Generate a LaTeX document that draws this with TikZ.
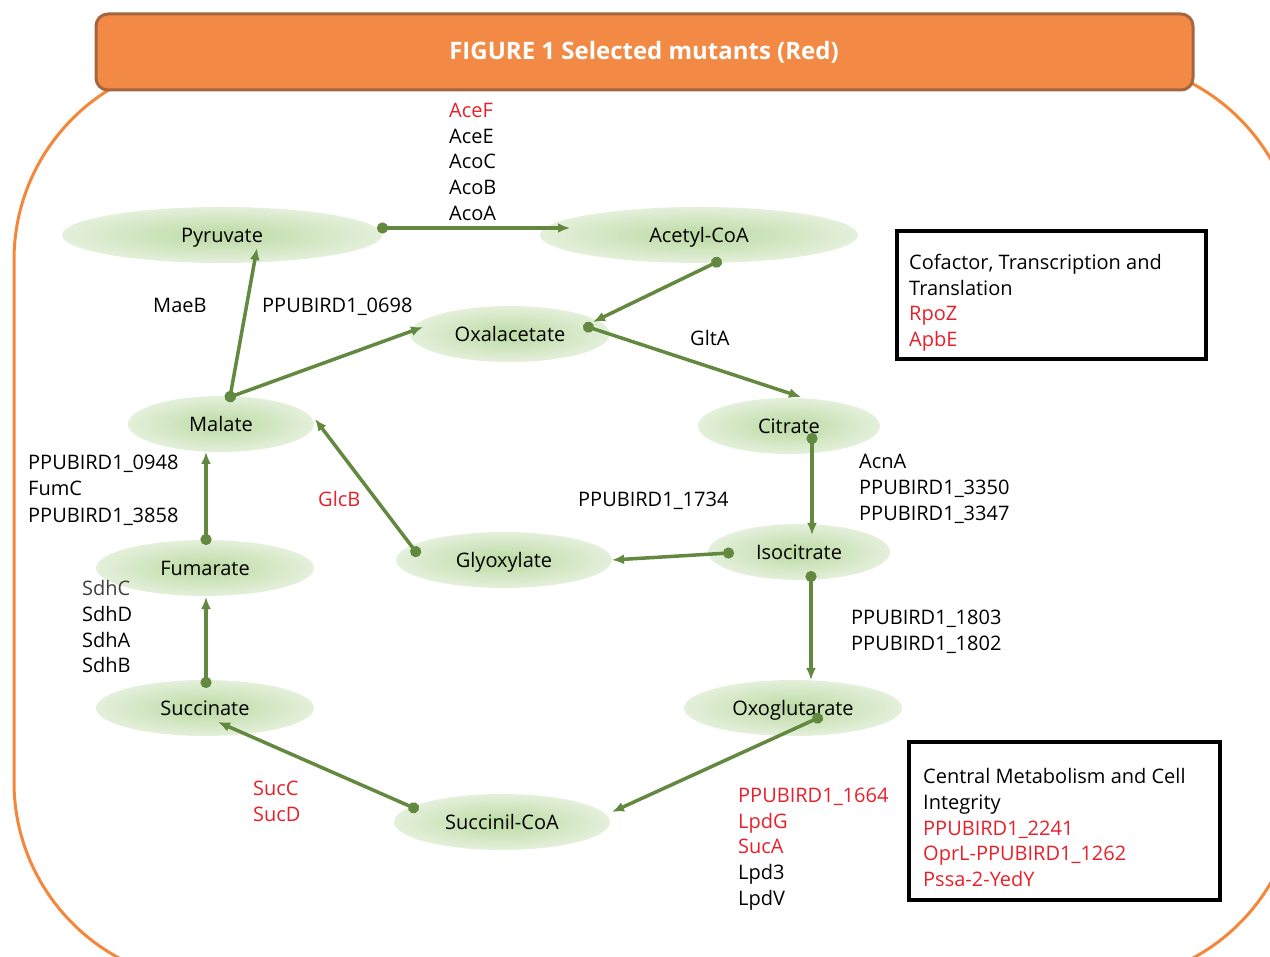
\documentclass[tikz,border=0pt]{standalone}
\usepackage{fontspec}
\setmainfont{Open Sans}
\usetikzlibrary{arrows.meta,shapes.geometric,calc}
\definecolor{hdrfill}{HTML}{F28A45}
\definecolor{hdrline}{HTML}{A4663D}
\definecolor{frameor}{HTML}{F4873A}
\definecolor{arrgreen}{HTML}{62893F}
\definecolor{metin}{HTML}{BBDAA2}
\definecolor{metout}{HTML}{E4F0DB}
\definecolor{mutred}{HTML}{E8202A}
\definecolor{dgrey}{HTML}{404040}
\begin{document}
\begin{tikzpicture}[x=1pt,y=-1pt,
  met/.style={ellipse, inner sep=0pt, minimum height=56pt, shading=radial,
    inner color=metin, outer color=metout, font=\fontsize{20}{25}\selectfont,
    text height=15pt, text depth=0pt},
  lbl/.style={anchor=base west, inner sep=0pt, font=\fontsize{20}{25}\selectfont},
  redlbl/.style={lbl, text=mutred},
  flow/.style={draw=arrgreen, line width=3.5pt, shorten <=-5pt,
    arrows={Circle[length=11pt,width=11pt]-Latex[length=12pt,width=10pt]}},
  infobox/.style={draw=black, line width=3.5pt, inner sep=0pt}
]
\useasboundingbox (0,0) rectangle (1270,957);
\begin{scope}
\clip (0,0) rectangle (1270,957);
\draw[frameor, line width=3pt, rounded corners=200pt] (14,60) rectangle (1298,982);
\end{scope}
\node[draw=hdrline, fill=hdrfill, line width=3pt, rounded corners=12pt,
  minimum width=1097pt, minimum height=76pt, inner sep=0pt] (hdr) at (644.5,52) {};
\node[text=white, font=\fontsize{24}{28}\selectfont\bfseries] (title) at (644,52) {FIGURE 1 Selected mutants (Red)};

% metabolites
\node[met, minimum width=320pt] (pyr) at (222,235) {Pyruvate};
\node[met, minimum width=318pt] (ace) at (699,235) {Acetyl-CoA};
\node[met, minimum width=200pt] (oxa) at (510,334) {Oxalacetate};
\node[met, minimum width=186pt] (mal) at (221,424) {Malate};
\node[met, minimum width=182pt] (cit) at (789,426) {Citrate};
\node[met, minimum width=218pt] (fum) at (205,568) {Fumarate};
\node[met, minimum width=216pt] (gly) at (504,560) {Glyoxylate};
\node[met, minimum width=182pt] (iso) at (799,552) {Isocitrate};
\node[met, minimum width=218pt] (suc) at (205,708) {Succinate};
\node[met, minimum width=218pt] (oxo) at (793,708) {Oxoglutarate};
\node[met, minimum width=216pt] (sco) at (502,822) {Succinil-CoA};

% connectors
\draw[flow] ($(pyr)+(160,-7)$) -- ($(ace)+(-129,-7)$);
\draw[flow] ($(ace)+(18,27)$) -- ($(oxa)+(83,-12)$);
\draw[flow] ($(oxa)+(78,-7)$) -- ($(cit)+(12,-29)$);
\draw[flow] ($(mal)+(9,-27)$) -- ($(pyr)+(35,13)$);
\draw[flow] ($(mal)+(9,-27)$) -- ($(oxa)+(-87,-7)$);
\draw[flow] ($(fum)+(1,-28)$) -- ($(mal)+(-15,28)$);
\draw[flow] ($(suc)+(1,-25)$) -- ($(fum)+(1,29)$);
\draw[flow] ($(sco)+(-88,-14)$) -- ($(suc)+(13,14)$);
\draw[flow] ($(oxo)+(25,10)$) -- ($(sco)+(110,-10)$);
\draw[flow] ($(iso)+(12,24)$) -- ($(oxo)+(18,-28)$);
\draw[flow] ($(cit)+(23,12)$) -- ($(iso)+(13,-17)$);
\draw[flow] ($(iso)+(-70,1)$) -- ($(gly)+(108,0)$);
\draw[flow] ($(gly)+(-88,-8)$) -- ($(mal)+(94,-5)$);

% enzyme labels
\node[redlbl] (aceF) at (449,118) {AceF};
\node[lbl] (aceE) at (449,144) {AceE};
\node[lbl] (acoC) at (449,169) {AcoC};
\node[lbl] (acoB) at (449,195) {AcoB};
\node[lbl] (acoA) at (449,221) {AcoA};
\node[lbl] (maeB) at (153,313) {MaeB};
\node[lbl] (p0698) at (262,313) {PPUBIRD1\_0698};
\node[lbl] (gltA) at (690,346) {GltA};
\node[lbl] (p0948) at (28,470) {PPUBIRD1\_0948};
\node[lbl] (fumC) at (28,496) {FumC};
\node[lbl] (p3858) at (28,522) {PPUBIRD1\_3858};
\node[redlbl] (glcB) at (318,507) {GlcB};
\node[lbl] (p1734) at (578,507) {PPUBIRD1\_1734};
\node[lbl] (acnA) at (859,469) {AcnA};
\node[lbl] (p3350) at (859,495) {PPUBIRD1\_3350};
\node[lbl] (p3347) at (859,521) {PPUBIRD1\_3347};
\node[lbl, text=dgrey] (sdhC) at (82,595) {SdhC};
\node[lbl] (sdhD) at (82,621) {SdhD};
\node[lbl] (sdhA) at (82,647) {SdhA};
\node[lbl] (sdhB) at (82,672) {SdhB};
\node[lbl] (p1803) at (851,624) {PPUBIRD1\_1803};
\node[lbl] (p1802) at (851,650) {PPUBIRD1\_1802};
\node[redlbl] (sucC) at (253,795) {SucC};
\node[redlbl] (sucD) at (253,821) {SucD};
\node[redlbl] (p1664) at (738,802) {PPUBIRD1\_1664};
\node[redlbl] (lpdG) at (738,828) {LpdG};
\node[redlbl] (sucA) at (738,853) {SucA};
\node[lbl] (lpd3) at (738,879) {Lpd3};
\node[lbl] (lpdV) at (738,905) {LpdV};

% info boxes
\node[infobox, minimum width=309pt, minimum height=128pt] (box1) at (1051.5,295) {};
\node[lbl] (b1a) at (909,270) {Cofactor, Transcription and};
\node[lbl] (b1b) at (909,296) {Translation};
\node[redlbl] (b1c) at (909,321) {RpoZ};
\node[redlbl] (b1d) at (909,347) {ApbE};
\node[infobox, minimum width=311pt, minimum height=158pt] (box2) at (1064.5,821) {};
\node[lbl] (b2a) at (923,783) {Central Metabolism and Cell};
\node[lbl] (b2b) at (923,809) {Integrity};
\node[redlbl] (b2c) at (923,835) {PPUBIRD1\_2241};
\node[redlbl] (b2d) at (923,860) {OprL-PPUBIRD1\_1262};
\node[redlbl] (b2e) at (923,886) {Pssa-2-YedY};
\end{tikzpicture}
\end{document}
